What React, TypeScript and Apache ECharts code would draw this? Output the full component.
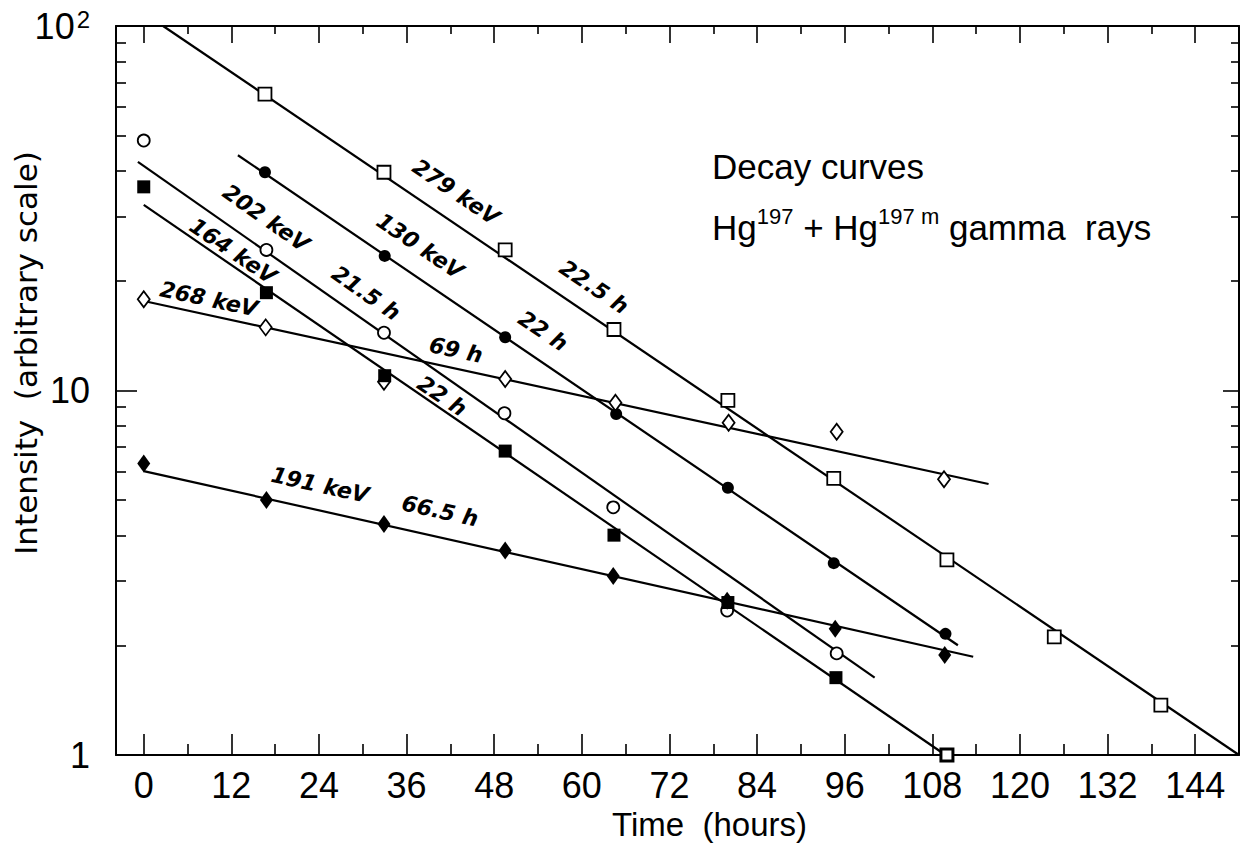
import React, { useEffect, useRef } from "react";
import * as echarts from "echarts";

// ---- data ----
const xMajor = [0, 12, 24, 36, 48, 60, 72, 84, 96, 108, 120, 132, 144];
const xMinor = [6, 18, 30, 42, 54, 66, 78, 90, 102, 114, 126, 138];
const yMajorLabels = [1, 10, 100];
const yMajorTicks = [10];
const yMinorTicks = [2, 3, 4, 5, 6, 7, 8, 9, 20, 30, 40, 50, 60, 70, 80, 90];

// 279 keV (open squares), 22.5 h
const t279 = [16.6, 32.9, 49.5, 64.4, 80.0, 94.5, 110, 124.7, 139.3];
const i279 = [65, 39.7, 24.3, 14.7, 9.4, 5.74, 3.43, 2.11, 1.37];
const fitT279 = [2.65, 150];
const fitI279 = [100, 1];

// 130 keV (filled circles), 22 h
const t130 = [16.6, 33.0, 49.5, 64.7, 80.0, 94.5, 109.8];
const i130 = [39.7, 23.4, 14.0, 8.62, 5.41, 3.36, 2.15];
const fitT130 = [12.9, 111.5];
const fitI130 = [44.2, 2.0];

// 202 keV (open circles), 21.5 h
const t202 = [0, 16.8, 32.9, 49.4, 64.3, 79.9, 94.9];
const i202 = [48.5, 24.3, 14.4, 8.66, 4.78, 2.49, 1.9];
const fitT202 = [-0.8, 100.1];
const fitI202 = [42.4, 1.63];

// 164 keV (filled squares), 22 h
const t164 = [0, 16.8, 33.0, 49.5, 64.4, 80.0, 94.8];
const i164 = [36.2, 18.55, 10.98, 6.82, 4.01, 2.62, 1.63];
const t164edge = [110];
const i164edge = [1.0];
const fitT164 = [0, 109.8];
const fitI164 = [32.3, 1.0];

// 268 keV (open diamonds), 69 h
const t268 = [0, 16.7, 32.9, 49.5, 64.6, 80.1, 94.9, 109.6];
const i268 = [17.8, 14.9, 10.57, 10.75, 9.26, 8.16, 7.71, 5.71];
const fitT268 = [0, 115.7];
const fitI268 = [17.6, 5.54];

// 191 keV (filled diamonds), 66.5 h
const t191 = [0, 16.8, 32.9, 49.5, 64.3, 79.9, 94.7, 109.7];
const i191 = [6.31, 5.01, 4.3, 3.64, 3.1, 2.65, 2.22, 1.88];
const fitT191 = [0, 113.6];
const fitI191 = [6.01, 1.86];

const annotationTexts = [
  "279 keV", "22.5 h", "130 keV", "22 h", "202 keV", "21.5 h",
  "164 keV", "22 h", "268 keV", "69 h", "191 keV", "66.5 h",
];

const zip = (a: number[], b: number[]) => a.map((v, i) => [v, b[i]]);

export default function App() {
  const ref = useRef<HTMLDivElement>(null);
  useEffect(() => {
    if (!ref.current) return;
    const chart = echarts.init(ref.current, undefined, { renderer: "svg" });
    const tickFont = '"Liberation Sans", Arial, sans-serif';
    const XMIN = -3.8, XMAX = 150;

    const baseX = (pos: string, customTicks: number[], len: number, showLine: boolean, showLabel: boolean, extra: any = {}) => ({
      type: "value", min: XMIN, max: XMAX, position: pos, gridIndex: 0,
      axisLine: { show: showLine, onZero: false, lineStyle: { color: "#000", width: 2 } },
      axisTick: { show: true, inside: true, length: len, customValues: customTicks, lineStyle: { color: "#000", width: 1.6 } },
      axisLabel: showLabel
        ? { show: true, customValues: xMajor, fontSize: 36, color: "#000", fontFamily: tickFont, margin: 12 }
        : { show: false },
      splitLine: { show: false },
      ...extra,
    });
    const baseY = (pos: string, customTicks: number[], len: number, showLine: boolean, showLabel: boolean, extra: any = {}) => ({
      type: "log", logBase: 10, min: 1, max: 100, position: pos, gridIndex: 0,
      axisLine: { show: showLine, onZero: false, lineStyle: { color: "#000", width: 2 } },
      axisTick: { show: true, inside: true, length: len, customValues: customTicks, lineStyle: { color: "#000", width: 1.6 } },
      axisLabel: showLabel
        ? {
            show: true, customValues: yMajorLabels, color: "#000", fontFamily: tickFont, fontSize: 36, margin: 26,
            formatter: (v: number) => (v >= 99 ? "{a|10}{b|2}" : String(Math.round(v))),
            rich: {
              a: { fontSize: 36, fontFamily: tickFont, color: "#000" },
              b: { fontSize: 24, fontFamily: tickFont, color: "#000", verticalAlign: "top", padding: [0, 0, 14, 2] },
            },
          }
        : { show: false },
      splitLine: { show: false },
      minorTick: { show: false },
      ...extra,
    });

    const lineSeries = (name: string, t: number[], v: number[]) => ({
      name: name + " fit", type: "line", xAxisIndex: 0, yAxisIndex: 0, data: zip(t, v),
      symbol: "none", lineStyle: { color: "#000", width: 2.2 }, z: 2, silent: true,
    });
    const scatterSeries = (name: string, t: number[], v: number[], symbol: string, size: any, filled: boolean, bw = 1.8) => ({
      name, type: "scatter", xAxisIndex: 0, yAxisIndex: 0, data: zip(t, v), symbol, symbolSize: size,
      itemStyle: { color: filled ? "#000" : "#fff", borderColor: "#000", borderWidth: filled ? 0 : bw, opacity: 1 },
      z: 3,
    });

    const rots = [34, 34, 34, 34, 35, 35, 34, 34, 12, 12, 12.5, 12.5];
    const pos = [
      [456, 192], [594, 287], [420, 246], [543, 331], [266, 218], [366, 293],
      [233, 251], [442, 396], [209, 299], [456, 350], [320, 485], [440, 511],
    ];
    const labelGraphics = annotationTexts.map((txt, i) => ({
      type: "text", x: pos[i][0], y: pos[i][1], rotation: (-rots[i] * Math.PI) / 180, z: 10,
      style: { text: txt, font: 'italic bold 22px "DejaVu Sans", sans-serif', fill: "#000", align: "center", verticalAlign: "middle" },
    }));

    chart.setOption({
      animation: false,
      backgroundColor: "#fff",
      grid: { left: 116, top: 26, width: 1123, height: 729, containLabel: false, outerBoundsMode: "none" },
      xAxis: [
        baseX("bottom", xMajor, 21, true, true, {
          name: "Time  (hours)", nameLocation: "middle", nameGap: 42,
          nameTextStyle: { fontSize: 33, fontFamily: tickFont, color: "#000", padding: [0, 0, 0, 64] },
        }),
        baseX("bottom", xMinor, 11, false, false),
        baseX("top", xMajor, 17, true, false),
        baseX("top", xMinor, 8, false, false),
      ],
      yAxis: [
        baseY("left", yMajorTicks, 21, true, true),
        baseY("left", yMinorTicks, 10, false, false),
        baseY("right", yMajorTicks, 16, true, false),
        baseY("right", yMinorTicks, 8, false, false),
      ],
      series: [
        lineSeries("279 keV", fitT279, fitI279),
        lineSeries("130 keV", fitT130, fitI130),
        lineSeries("202 keV", fitT202, fitI202),
        lineSeries("164 keV", fitT164, fitI164),
        lineSeries("268 keV", fitT268, fitI268),
        lineSeries("191 keV", fitT191, fitI191),
        scatterSeries("279 keV", t279, i279, "rect", 13, false),
        scatterSeries("130 keV", t130, i130, "circle", 12, true),
        scatterSeries("202 keV", t202, i202, "circle", 12, false),
        scatterSeries("268 keV", t268, i268, "diamond", [12, 16], false),
        scatterSeries("164 keV", t164, i164, "rect", 13, true),
        scatterSeries("164 keV end", t164edge, i164edge, "rect", 12, false, 3),
        scatterSeries("191 keV", t191, i191, "diamond", [13, 18], true),
      ],
      graphic: [
        ...labelGraphics,
        {
          type: "text", x: 26, y: 353, rotation: Math.PI / 2, z: 10,
          style: { text: "Intensity  (arbitrary scale)", font: '31px "DejaVu Sans", sans-serif', fill: "#000", align: "center", verticalAlign: "middle" },
        },
        {
          type: "text", x: 712, y: 166, z: 10,
          style: { text: "Decay curves", font: '35px "Liberation Sans", Arial, sans-serif', fill: "#000", align: "left", verticalAlign: "middle" },
        },
        {
          type: "text", x: 712, y: 227, z: 10,
          style: {
            text: "{n|Hg}{s|197}{n| + Hg}{s|197 m}{n| gamma  rays}",
            align: "left", verticalAlign: "middle",
            rich: {
              n: { fontSize: 35, fontFamily: tickFont, fill: "#000", lineHeight: 44 },
              s: { fontSize: 22, fontFamily: tickFont, fill: "#000", verticalAlign: "top", lineHeight: 22 },
            },
          },
        },
      ],
    });
    return () => chart.dispose();
  }, []);
  return (
    <div
      ref={ref}
      style={{ position: "fixed", left: 0, top: 0, width: 1248, height: 853, background: "#fff" }}
    />
  );
}
